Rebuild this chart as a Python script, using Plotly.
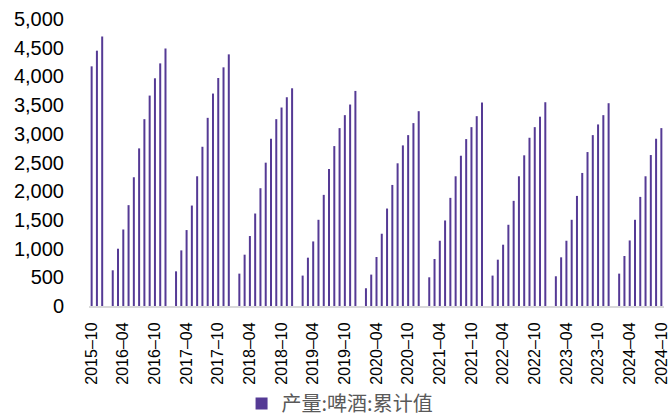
import pandas as pd
import plotly.graph_objects as go

months = pd.date_range("2015-10-01", "2024-10-01", freq="MS").strftime("%Y-%m").tolist()

v2015 = [4175, 4448, 4696]
v2016 = [None, 622, 998, 1333, 1757, 2243, 2746, 3255, 3666, 3967, 4227, 4488]
v2017 = [None, 604, 969, 1323, 1750, 2260, 2774, 3278, 3701, 3972, 4158, 4384]
v2018 = [None, 564, 894, 1219, 1611, 2052, 2497, 2914, 3255, 3458, 3637, 3793]
v2019 = [None, 530, 842, 1125, 1502, 1936, 2387, 2786, 3099, 3325, 3510, 3747]
v2020 = [None, 309, 547, 854, 1259, 1698, 2109, 2486, 2798, 2977, 3186, 3394]
v2021 = [None, 500, 819, 1137, 1490, 1884, 2260, 2618, 2908, 3116, 3307, 3545]
v2022 = [None, 530, 807, 1068, 1415, 1832, 2260, 2625, 2931, 3116, 3298, 3550]
v2023 = [None, 518, 848, 1137, 1502, 1918, 2318, 2682, 2977, 3163, 3325, 3533]
v2024 = [None, 564, 871, 1142, 1502, 1901, 2260, 2630, 2914, 3099]
values = v2015 + v2016 + v2017 + v2018 + v2019 + v2020 + v2021 + v2022 + v2023 + v2024

tick_vals = months[::6]
tick_text = [m.replace("-", "–") for m in tick_vals]
y_ticks = list(range(0, 5001, 500))

series_name = "产量:啤酒:累计值"

fig = go.Figure()
fig.add_trace(go.Bar(
    x=months, y=values, name=series_name,
    marker=dict(color="#553a95", line=dict(width=0)),
    showlegend=True,
))

fig.update_layout(
    width=671, height=416,
    margin=dict(l=89, r=7, t=19, b=110, autoexpand=False),
    paper_bgcolor="white", plot_bgcolor="white",
    bargap=0.62,
    font=dict(family="Liberation Sans, Arial, sans-serif", color="black"),
    legend=dict(
        orientation="h", xref="container", yref="container",
        x=0.36, xanchor="left", y=0.03, yanchor="middle",
        font=dict(family="Noto Sans CJK SC", size=20, color="#595959"),
        itemwidth=30, tracegroupgap=0,
    ),
    xaxis=dict(
        type="category", tickmode="array", tickvals=tick_vals, ticktext=tick_text,
        tickangle=-90, tickfont=dict(size=16, color="black"),
        showline=True, linecolor="#d9d9d9", linewidth=2,
        showgrid=False, zeroline=False, ticks="", ticklabelstandoff=8,
        automargin=False,
    ),
    yaxis=dict(
        range=[0, 5000], tickmode="array", tickvals=y_ticks,
        tickformat=",", tickfont=dict(size=20, color="black"),
        showline=False, showgrid=False, zeroline=False, ticks="",
        ticklabelstandoff=24, automargin=False,
    ),
)

fig.write_html(
    "out.html",
    config={"displayModeBar": False},
    post_script="document.body.style.margin='0';document.body.style.padding='0';document.body.style.overflow='hidden';",
)
